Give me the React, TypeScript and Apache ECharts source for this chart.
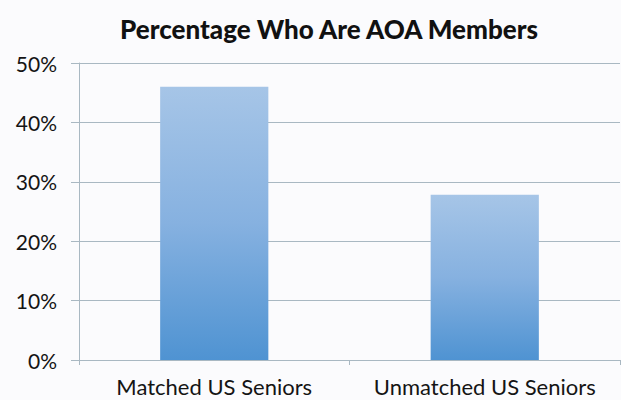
import React, { useEffect, useRef } from "react";
import * as echarts from "echarts";

const categories = ["Matched US Seniors", "Unmatched US Seniors"];
const aoaPercent = [46.0, 27.8];
const yTicks = [0, 10, 20, 30, 40, 50];
const titleText = "Percentage Who Are AOA Members";

export default function App() {
  const ref = useRef<HTMLDivElement>(null);
  useEffect(() => {
    if (!ref.current) return;
    const chart = echarts.init(ref.current, null, { renderer: "svg" });
    const gridColor = "#a9b8c2";
    chart.setOption({
      animation: false,
      backgroundColor: "#fbfbfd",
      title: {
        text: titleText,
        left: 115,
        top: 11,
        textStyle: {
          fontFamily: "Lato",
          fontWeight: 900,
          fontSize: 26,
          color: "#111",
        },
      },
      grid: { left: 79, right: 1, top: 63, bottom: 40, containLabel: false },
      xAxis: {
        type: "category",
        data: categories,
        boundaryGap: true,
        axisLine: { show: true, lineStyle: { color: gridColor, width: 1 } },
        axisTick: { show: true, length: 5, alignWithLabel: false, lineStyle: { color: gridColor } },
        axisLabel: {
          interval: 0,
          hideOverlap: false,
          fontFamily: "Lato",
          fontSize: 22,
          lineHeight: 22,
          color: "#141414",
          margin: 15,
        },
      },
      yAxis: {
        type: "value",
        min: yTicks[0],
        max: yTicks[yTicks.length - 1],
        interval: 10,
        axisLine: { show: true, lineStyle: { color: gridColor, width: 1 } },
        axisTick: { show: true, length: 8, lineStyle: { color: gridColor } },
        splitLine: { show: true, lineStyle: { color: gridColor, width: 1 } },
        axisLabel: {
          formatter: "{value}%",
          fontFamily: "Lato",
          fontSize: 21,
          color: "#141414",
          margin: 22,
        },
      },
      series: [
        {
          type: "bar",
          data: aoaPercent,
          barWidth: "40%",
          itemStyle: {
            color: new echarts.graphic.LinearGradient(0, 0, 0, 1, [
              { offset: 0, color: "#a6c5e7" },
              { offset: 0.5, color: "#86b1e0" },
              { offset: 1, color: "#4f93d2" },
            ]),
          },
        },
      ],
    });
    return () => chart.dispose();
  }, []);
  return (
    <div style={{ position: "fixed", left: 0, top: 0, width: 621, height: 400 }}>
      <div ref={ref} style={{ width: 621, height: 400 }} />
    </div>
  );
}
